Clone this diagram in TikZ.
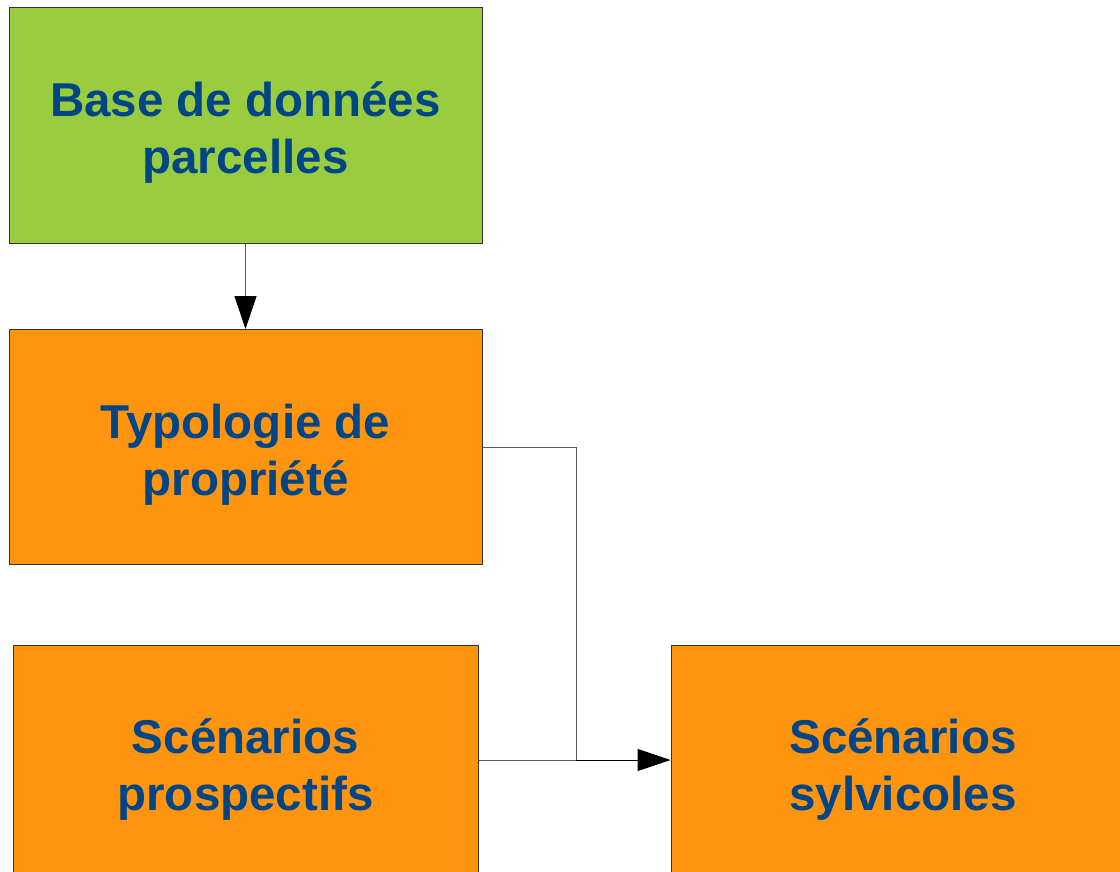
\documentclass[tikz,border=0pt]{standalone}
\usepackage{fontspec}
\setmainfont{Liberation Sans}
\usetikzlibrary{arrows.meta}
\definecolor{boxgreen}{HTML}{99CC3F}
\definecolor{boxorange}{HTML}{FF950E}
\definecolor{txtblue}{HTML}{004586}
\begin{document}
\begin{tikzpicture}[x=1pt,y=-1pt,
  box/.style={draw=black!80, line width=1pt, minimum height=235pt, inner sep=0pt},
  label text/.style={align=center, inner sep=0pt, yshift=-7pt,
    font=\fontsize{47.5}{57}\selectfont\bfseries, text=txtblue},
  conn/.style={draw=black!65, line width=1pt},
  tip/.style={-{Triangle[length=33pt,width=22pt,color=black]}}]
\useasboundingbox (0,0) rectangle (1120,872);
\clip (0,0) rectangle (1120,872);
\node[box, fill=boxgreen, minimum width=473pt] (base) at (245.5,125.5) {};
\node[box, fill=boxorange, minimum width=473pt] (typo) at (245.5,447) {};
\node[box, fill=boxorange, minimum width=465pt] (prosp) at (245.5,762.5) {};
\node[box, fill=boxorange, minimum width=464pt] (sylv) at (903,762.5) {};
\node[label text] (baset) at (base.center) {Base de données\\parcelles};
\node[label text, yshift=-1pt] (typot) at (typo.center) {Typologie de\\propriété};
\node[label text] (prospt) at (prosp.center) {Scénarios\\prospectifs};
\node[label text] (sylvt) at (sylv.center) {Scénarios\\sylvicoles};
\coordinate (j) at (576,760);
\draw[conn, tip] (base.south) -- (typo.north);
\draw[conn] (typo.east) -| (j);
\draw[conn] (prosp.east |- j) -- (j);
\draw[conn, tip, draw=black] (j) -- (sylv.west |- j);
\end{tikzpicture}
\end{document}
